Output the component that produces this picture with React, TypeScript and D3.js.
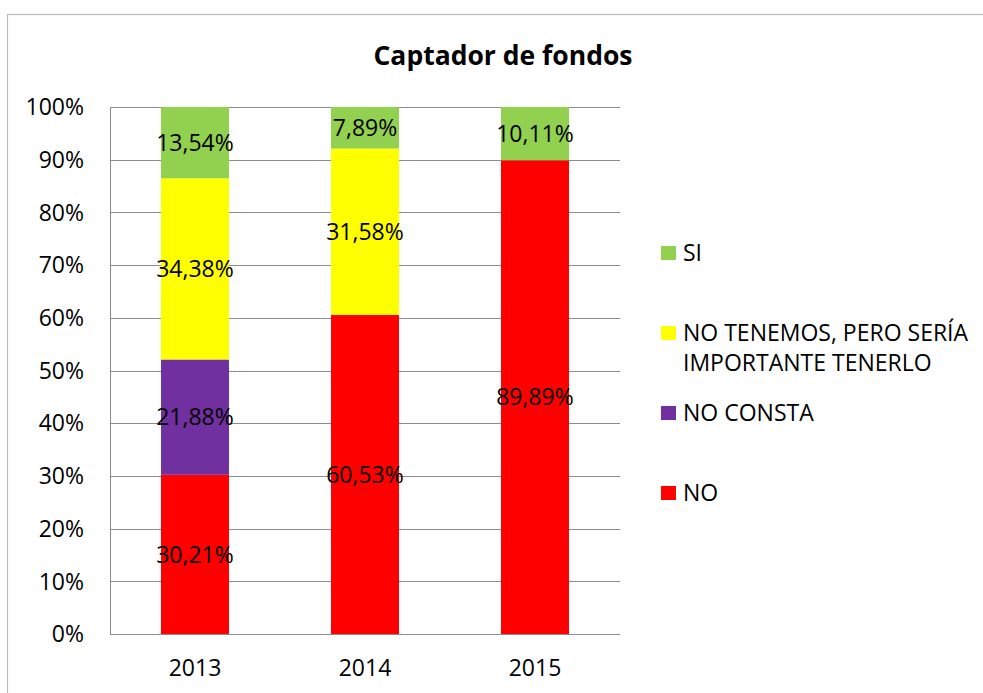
import React, { useRef, useEffect } from 'react';
import * as d3 from 'd3';

// años (categorias)
const years = ['2013', '2014', '2015'];

// series, de abajo hacia arriba
const seriesNames = ['NO', 'NO CONSTA', 'NO TENEMOS, PERO SERÍA IMPORTANTE TENERLO', 'SI'];
const seriesColors = ['#FF0000', '#7030A0', '#FFFF00', '#92D050'];

const valuesNO = [30.21, 60.53, 89.89];
const valuesNoConsta = [21.88, 0, 0];
const valuesNoTenemos = [34.38, 31.58, 0];
const valuesSI = [13.54, 7.89, 10.11];

const yTicks = [0, 10, 20, 30, 40, 50, 60, 70, 80, 90, 100];

// lineas del texto de la leyenda
const legendLines = [['SI'], ['NO TENEMOS, PERO SERÍA', 'IMPORTANTE TENERLO'], ['NO CONSTA'], ['NO']];

function Chart() {
  const canvas = useRef<HTMLDivElement>(null);

  useEffect(() => {
    const W = 983;
    const H = 693;
    const font = '"Open Sans", sans-serif';
    const fs = '23px';
    const plot = { left: 110, right: 620, top: 107, bottom: 634 };

    d3.select(canvas.current).select('svg').remove();
    const svg = d3
      .select(canvas.current)
      .append('svg')
      .attr('width', W)
      .attr('height', H)
      .style('display', 'block');

    svg.append('rect').attr('width', W).attr('height', H).attr('fill', '#fff');

    // borde del grafico
    svg
      .append('rect')
      .attr('x', 7.5)
      .attr('y', 14.5)
      .attr('width', 990)
      .attr('height', 700)
      .attr('fill', 'none')
      .attr('stroke', '#bcbcbc')
      .attr('stroke-width', 1.2);

    svg
      .append('text')
      .attr('x', 503)
      .attr('y', 65)
      .attr('text-anchor', 'middle')
      .style('font-family', font)
      .style('font-weight', 'bold')
      .style('font-size', '26.5px')
      .text('Captador de fondos');

    const x = d3
      .scaleBand()
      .domain(years)
      .range([plot.left, plot.right])
      .paddingInner(0.6)
      .paddingOuter(0.3);
    const y = d3.scaleLinear().domain([0, 100]).range([plot.bottom, plot.top]);

    // grid
    svg
      .append('g')
      .selectAll('line')
      .data(yTicks)
      .enter()
      .append('line')
      .attr('x1', plot.left)
      .attr('x2', plot.right)
      .attr('y1', (d) => Math.round(y(d)) + 0.5)
      .attr('y2', (d) => Math.round(y(d)) + 0.5)
      .attr('stroke', '#8c8c8c')
      .attr('stroke-width', 1);

    svg
      .append('line')
      .attr('x1', plot.left + 0.5)
      .attr('x2', plot.left + 0.5)
      .attr('y1', plot.top)
      .attr('y2', plot.bottom)
      .attr('stroke', '#8c8c8c');

    svg
      .append('g')
      .selectAll('text')
      .data(yTicks)
      .enter()
      .append('text')
      .attr('x', 84)
      .attr('y', (d) => y(d))
      .attr('dy', '0.36em')
      .attr('text-anchor', 'end')
      .style('font-family', font)
      .style('font-size', fs)
      .text((d) => d + '%');

    svg
      .append('g')
      .selectAll('text')
      .data(years)
      .enter()
      .append('text')
      .attr('x', (d) => (x(d) as number) + x.bandwidth() / 2)
      .attr('y', 668)
      .attr('dy', '0.36em')
      .attr('text-anchor', 'middle')
      .style('font-family', font)
      .style('font-size', fs)
      .text((d) => d);

    const table = years.map((yr, i) => ({
      year: yr,
      s0: valuesNO[i],
      s1: valuesNoConsta[i],
      s2: valuesNoTenemos[i],
      s3: valuesSI[i],
    }));
    const stack = d3.stack<any>().keys(['s0', 's1', 's2', 's3'])(table);

    stack.forEach((layer, k) => {
      const g = svg.append('g');
      g.selectAll('rect')
        .data(layer.filter((d) => d[1] - d[0] > 0))
        .enter()
        .append('rect')
        .attr('x', (d) => x(d.data.year) as number)
        .attr('width', x.bandwidth())
        .attr('y', (d) => y(Math.min(d[1], 100)))
        .attr('height', (d) => y(d[0]) - y(Math.min(d[1], 100)))
        .attr('fill', seriesColors[k]);
    });

    // etiquetas de datos
    stack.forEach((layer) => {
      svg
        .append('g')
        .selectAll('text')
        .data(layer.filter((d) => d[1] - d[0] > 0))
        .enter()
        .append('text')
        .attr('x', (d) => (x(d.data.year) as number) + x.bandwidth() / 2)
        .attr('y', (d) => y((d[0] + Math.min(d[1], 100)) / 2))
        .attr('dy', '0.36em')
        .attr('text-anchor', 'middle')
        .style('font-family', font)
        .style('font-size', fs)
        .text((d) => (d[1] - d[0]).toFixed(2).replace('.', ',') + '%');
    });

    // leyenda
    const legendY = [253, 333, 413, 493];
    legendLines.forEach((lines, i) => {
      const k = seriesNames.length - 1 - i;
      svg
        .append('rect')
        .attr('x', 661)
        .attr('y', legendY[i] - 7)
        .attr('width', 15)
        .attr('height', 14)
        .attr('fill', seriesColors[k]);
      lines.forEach((ln, j) => {
        svg
          .append('text')
          .attr('x', 683)
          .attr('y', legendY[i] + j * 30)
          .attr('dy', '0.36em')
          .style('font-family', font)
          .style('font-size', fs)
          .text(ln);
      });
    });
  }, []);

  return <div ref={canvas}></div>;
}

export default function App() {
  return (
    <div style={{ position: 'absolute', left: 0, top: 0, width: 983, height: 693, overflow: 'hidden' }}>
      <Chart />
    </div>
  );
}
